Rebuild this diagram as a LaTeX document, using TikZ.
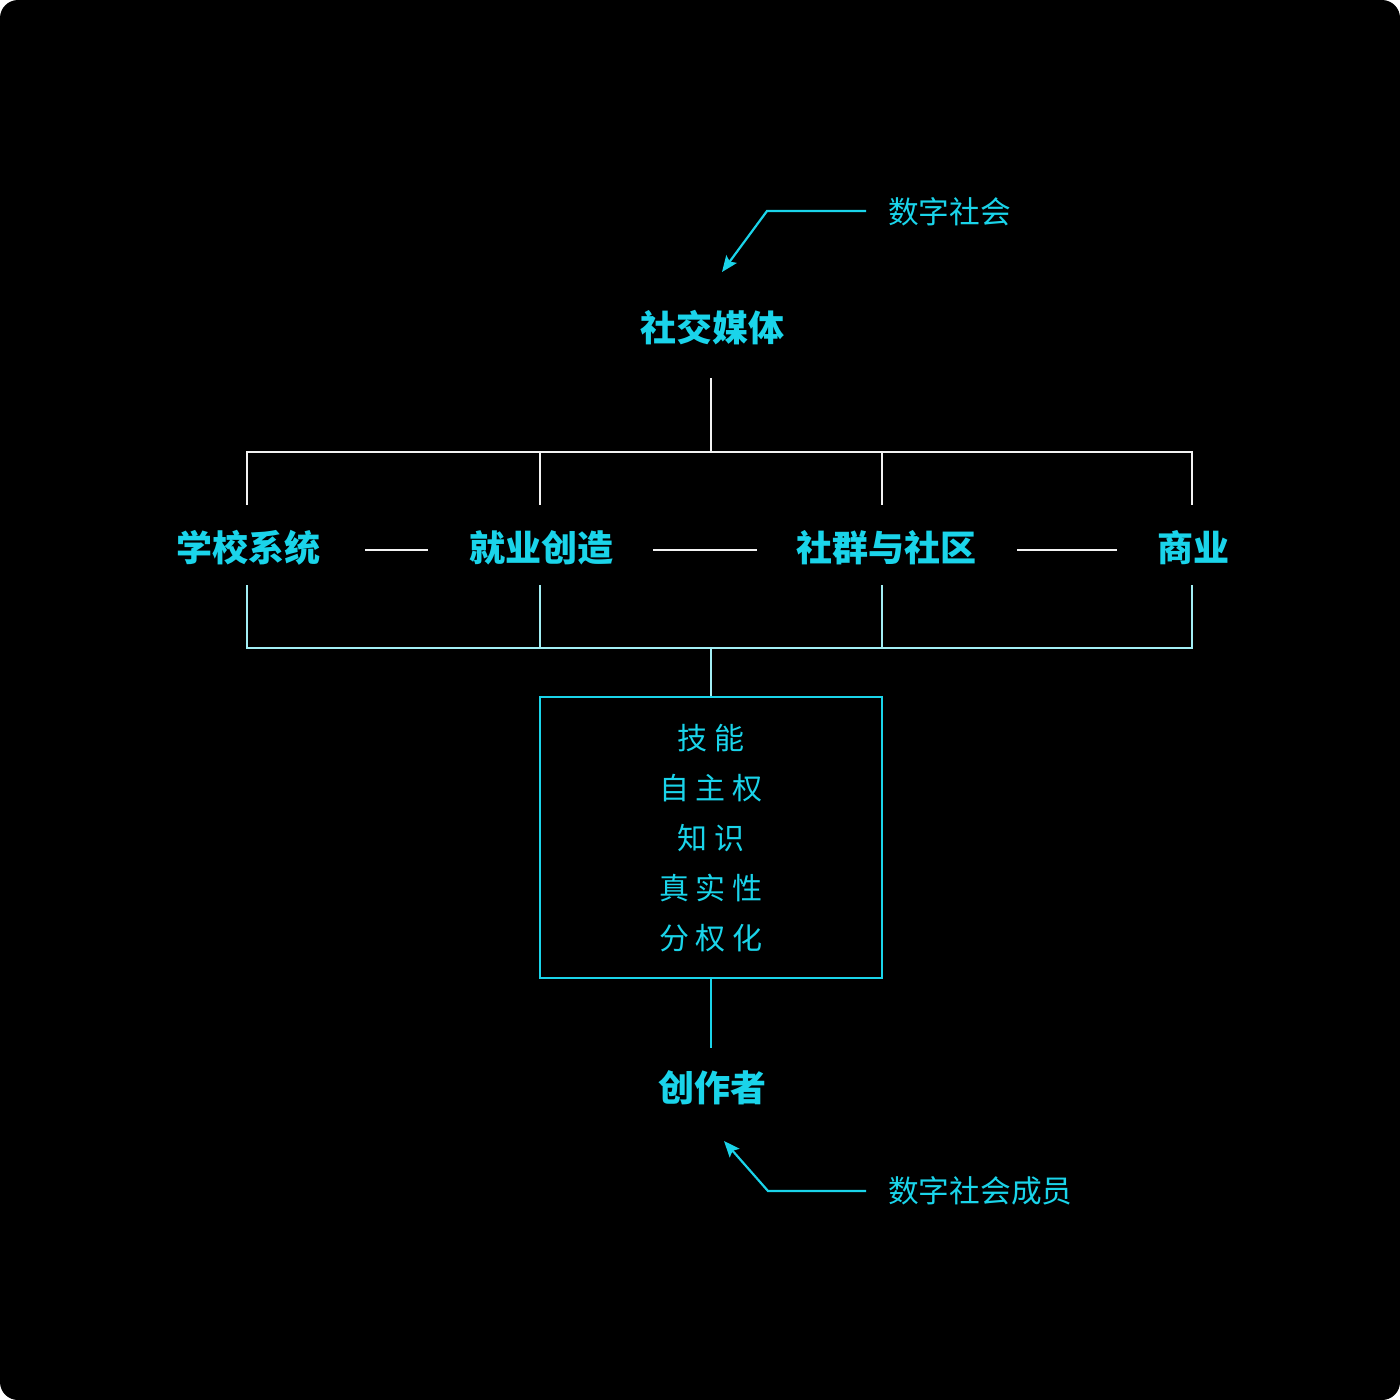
\documentclass[tikz,border=0pt]{standalone}
\usepackage{fontspec}
\setmainfont{Noto Sans CJK SC}
\usetikzlibrary{arrows.meta}
\definecolor{cy}{HTML}{1AD4EA}
\definecolor{lcy}{HTML}{A2EEF4}
\definecolor{wl}{HTML}{F2F2F2}
\tikzset{
  head/.style={text=cy, font=\fontsize{36}{40}\selectfont\bfseries, inner sep=0pt},
  note/.style={text=cy, font=\fontsize{30.7}{34}\selectfont, inner sep=0pt},
  boxtxt/.style={text=cy, font=\fontsize{30}{34}\selectfont, inner sep=0pt},
  wline/.style={draw=wl, line width=2pt},
  lline/.style={draw=lcy, line width=2pt},
  cline/.style={draw=cy, line width=2pt},
  arr/.style={draw=cy, line width=2.2pt, -{Stealth[length=16pt,width=13pt,inset=3pt]}},
}
\begin{document}
\begin{tikzpicture}[x=1pt,y=-1pt]
\useasboundingbox (0,0) rectangle (1400,1400);
\fill[white] (0,0) rectangle (1400,1400);
\fill[black, rounded corners=18pt] (0,0) rectangle (1400,1400);

% top
\node[note, anchor=west] (ds) at (888,212) {数字社会};
\node[head] (sm) at (712,328) {社交媒体};
\coordinate (a1) at (866,211);
\coordinate (a2) at (767,211);
\coordinate (a3) at (722,272);
\draw[arr] (a1) -- (a2) -- (a3);

% middle items
\node[head] (xx) at (248,548) {学校系统};
\node[head] (jy) at (541,548) {就业创造};
\node[head] (sq) at (886,548) {社群与社区};
\node[head] (sy) at (1193,548) {商业};

% upper bracket
\coordinate (t0) at (711,378);
\coordinate (tm) at (711,452);
\draw[wline] (t0) -- (tm);
\draw[wline] (247,505) -- (247,452) -- (1192,452) -- (1192,505);
\draw[wline] (540,452) -- (540,505);
\draw[wline] (882,452) -- (882,505);

% dashes between items
\draw[wline] (365,550) -- (428,550);
\draw[wline] (653,550) -- (757,550);
\draw[wline] (1017,550) -- (1117,550);

% lower bracket
\draw[lline] (247,585) -- (247,648) -- (1192,648) -- (1192,585);
\draw[lline] (540,585) -- (540,648);
\draw[lline] (882,585) -- (882,648);
\draw[lline] (711,648) -- (711,697);

% box
\node[draw=cy, line width=2pt, minimum width=342pt, minimum height=281pt, inner sep=0pt] (box) at (711,837.5) {};
\node[boxtxt] (b1) at (711,738) {技\hspace{8pt}能};
\node[boxtxt] (b2) at (711,788) {自\hspace{7pt}主\hspace{7pt}权};
\node[boxtxt] (b3) at (711,838) {知\hspace{8pt}识};
\node[boxtxt] (b4) at (711,888) {真\hspace{7pt}实\hspace{7pt}性};
\node[boxtxt] (b5) at (711,938) {分\hspace{7pt}权\hspace{7pt}化};

% bottom
\node[head] (cz) at (712,1088) {创作者};
\draw[cline] (box.south) -- (711,1048);
\node[note, anchor=west] (dm) at (888,1191) {数字社会成员};
\coordinate (c1) at (866,1191);
\coordinate (c2) at (768,1191);
\coordinate (c3) at (724,1141);
\draw[arr] (c1) -- (c2) -- (c3);
\end{tikzpicture}
\end{document}
